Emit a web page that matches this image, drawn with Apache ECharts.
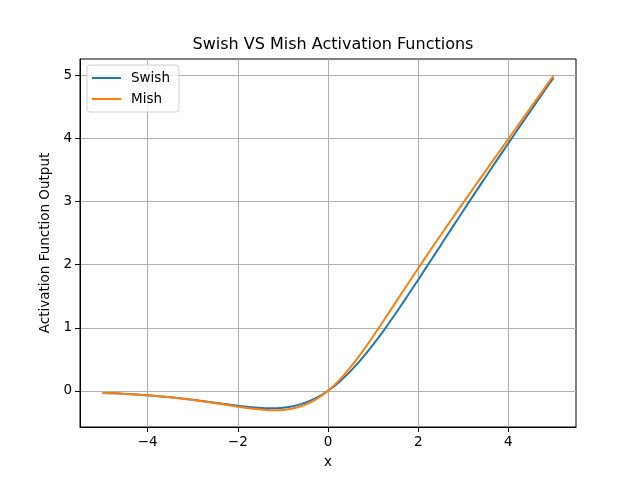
<!DOCTYPE html>
<html>
<head>
<meta charset="utf-8">
<script src="https://cdn.jsdelivr.net/npm/echarts@6/dist/echarts.min.js"></script>
<style>
	html, body { margin: 0; padding: 0; background: #fff; }
	#chart { width: 640px; height: 480px; }
</style>
</head>
<body>
<div id="chart"></div>
<script>
const xs = [
	-5, -4.75, -4.5, -4.25, -4, -3.75, -3.5, -3.25, -3, -2.75, -2.5, -2.25, -2, -1.75, -1.5, -1.25, -1, -0.75, -0.5, -0.25,
	0, 0.25, 0.5, 0.75, 1, 1.25, 1.5, 1.75, 2, 2.25, 2.5, 2.75, 3, 3.25, 3.5, 3.75, 4, 4.25, 4.5, 4.75, 5,
]
const swish = [
	-0.0335, -0.0407, -0.0494, -0.0598, -0.0719, -0.0862, -0.1026, -0.1213, -0.1423, -0.1652, -0.1897, -0.2145, -0.2384, -0.2591, -0.2736, -0.2784, -0.2689, -0.2406, -0.1888, -0.1095,
	0, 0.1405, 0.3112, 0.5094, 0.7311, 0.9716, 1.2264, 1.4909, 1.7616, 2.0355, 2.3104, 2.5848, 2.8577, 3.1287, 3.3974, 3.6638, 3.9281, 4.1902, 4.4506, 4.7093, 4.9665,
]
const mish = [
	-0.0336, -0.0409, -0.0497, -0.0602, -0.0726, -0.0872, -0.1041, -0.1236, -0.1457, -0.1702, -0.1968, -0.2247, -0.2525, -0.2780, -0.2981, -0.3084, -0.3034, -0.2765, -0.2207, -0.1299,
	0, 0.1696, 0.3752, 0.6100, 0.8651, 1.1319, 1.4034, 1.6749, 1.9440, 2.2095, 2.4714, 2.7302, 2.9865, 3.2410, 3.4940, 3.7460, 3.9974, 4.2483, 4.4989, 4.7493, 4.9996,
]
const xTicks = [-4, -2, 0, 2, 4]
const yTicks = [0, 1, 2, 3, 4, 5]

const font = "DejaVu Sans"
const chart = echarts.init(document.getElementById("chart"), null, { renderer: "canvas" })

const option = {
	backgroundColor: "#fff",
	animation: false,
	title: {
		text: "Swish VS Mish Activation Functions",
		left: 328,
		top: 32,
		textAlign: "center",
		textStyle: { fontFamily: font, fontSize: 16, fontWeight: "normal", color: "#000" },
	},
	legend: {
		orient: "vertical",
		left: 87,
		top: 65,
		padding: [6, 9, 6, 5],
		itemGap: 7,
		itemWidth: 29,
		itemHeight: 2,
		icon: "rect",
		borderColor: "#d0d0d0",
		borderWidth: 1,
		borderRadius: 3,
		backgroundColor: "rgba(255,255,255,0.8)",
		textStyle: { fontFamily: font, fontSize: 13.5, color: "#000", padding: [0, 0, 0, 5] },
		data: ["Swish", "Mish"],
	},
	grid: {
		left: 80,
		right: 64,
		top: 59,
		bottom: 53,
		show: true,
		borderColor: "#000",
		borderWidth: 1,
	},
	xAxis: {
		type: "value",
		min: -5.5,
		max: 5.5,
		name: "x",
		nameLocation: "middle",
		nameGap: 28,
		nameTextStyle: { fontFamily: font, fontSize: 13.5, color: "#000" },
		axisLine: { show: true, onZero: false, lineStyle: { color: "#000" } },
		axisTick: { show: true, length: 5, customValues: xTicks, lineStyle: { color: "#000" } },
		axisLabel: { customValues: xTicks, fontFamily: font, fontSize: 13.5, color: "#000", margin: 8,
			formatter: (v) => String(v).replace("-", "\u2212") },
		splitLine: { show: true, lineStyle: { color: "#b0b0b0", width: 1 } },
	},
	yAxis: {
		type: "value",
		min: -0.575,
		max: 5.265,
		name: "Activation Function Output",
		nameLocation: "middle",
		nameGap: 25,
		nameTextStyle: { fontFamily: font, fontSize: 13.5, color: "#000" },
		axisLine: { show: true, onZero: false, lineStyle: { color: "#000" } },
		axisTick: { show: true, length: 5, customValues: yTicks, lineStyle: { color: "#000" } },
		axisLabel: { customValues: yTicks, fontFamily: font, fontSize: 13.5, color: "#000", margin: 8 },
		splitLine: { show: true, lineStyle: { color: "#b0b0b0", width: 1 } },
	},
	series: [
		{
			name: "Swish",
			type: "line",
			data: xs.map((x, i) => [x, swish[i]]),
			showSymbol: false,
			smooth: 0.3,
			color: "#1f77b4",
			lineStyle: { width: 2 },
		},
		{
			name: "Mish",
			type: "line",
			data: xs.map((x, i) => [x, mish[i]]),
			showSymbol: false,
			smooth: 0.3,
			color: "#ff7f0e",
			lineStyle: { width: 2 },
		},
	],
}

chart.setOption(option)
</script>
</body>
</html>
